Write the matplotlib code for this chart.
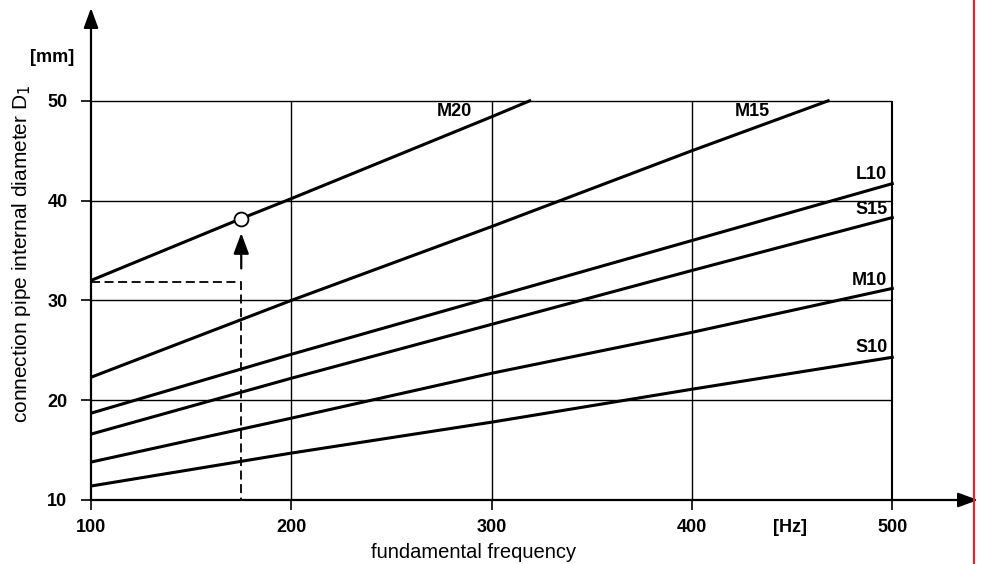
import matplotlib
matplotlib.use("Agg")
import matplotlib.pyplot as plt
from matplotlib.lines import Line2D

plt.rcParams['font.family'] = ['Liberation Sans', 'DejaVu Sans']

# readings taken off the chart: frequency [Hz] -> diameter [mm]
freq = [100, 200, 300, 400, 500]
m20_freq = [100, 175, 200, 300, 319]
m20 = [32.0, 38.2, 40.2, 48.4, 50.0]
m15_freq = [100, 200, 300, 400, 468]
m15 = [22.3, 30.0, 37.4, 45.0, 50.0]
l10 = [18.7, 24.6, 30.3, 36.0, 41.7]
s15 = [16.6, 22.2, 27.6, 33.0, 38.3]
m10 = [13.8, 18.2, 22.7, 26.8, 31.2]
s10 = [11.4, 14.7, 17.8, 21.1, 24.3]

x_ticks = [100, 200, 300, 400, 500]
y_ticks = [10, 20, 30, 40, 50]

# example point
ex_f = 175
ex_d = 38.2
ex_d1 = 31.8

fig = plt.figure(figsize=(9.86, 5.64), dpi=100)
ax = fig.add_axes([91 / 986, 64 / 564, 887 / 986, 492 / 564])
ax.set_xlim(100, 542.8)
ax.set_ylim(10, 59.3)

for s in ax.spines.values():
    s.set_visible(False)

# grid box
ax.hlines([20, 30, 40, 50], 100, 500, color='k', lw=1.0)
ax.vlines([200, 300, 400], 10, 50, color='k', lw=1.0)
ax.vlines([500], 10, 50, color='k', lw=1.5)

# axes with arrow heads
arr = dict(arrowstyle='-|>,head_length=0.6,head_width=0.22', mutation_scale=20,
           color='k', lw=1.6, shrinkA=0, shrinkB=0)
ax.annotate('', xy=(542.8, 10), xytext=(100, 10), arrowprops=arr, annotation_clip=False)
ax.annotate('', xy=(100, 59.3), xytext=(100, 10), arrowprops=arr, annotation_clip=False)

ax.set_xticks(x_ticks)
ax.set_yticks(y_ticks)
ax.tick_params(axis='both', direction='out', length=7, width=1.2, labelsize=13)
ax.tick_params(axis='x', pad=7)
ax.tick_params(axis='y', pad=10)
for lab in ax.get_xticklabels() + ax.get_yticklabels():
    lab.set_fontweight('bold')

lw = 2.2
ax.plot(m20_freq, m20, color='k', lw=lw)
ax.plot(m15_freq, m15, color='k', lw=lw)
for ser in (l10, s15, m10, s10):
    ax.plot(freq, ser, color='k', lw=lw)

# curve names
lab_kw = dict(fontsize=13, fontweight='bold', va='center', ha='right')
ax.text(290, 48.9, 'M20', **lab_kw)
ax.text(439, 48.9, 'M15', **lab_kw)
ax.text(497.5, 42.6, 'L10', **lab_kw)
ax.text(497.5, 39.1, 'S15', **lab_kw)
ax.text(497.5, 32.0, 'M10', **lab_kw)
ax.text(497.5, 25.3, 'S10', **lab_kw)

# example reading
ax.plot([100, ex_f, ex_f], [ex_d1, ex_d1, 10], color='k', lw=1.3, ls=(0, (5, 2.5)))
ax.plot([ex_f], [ex_d], marker='o', ms=10, mfc='white', mec='k', mew=1.3)
ax.annotate('', xy=(ex_f, 36.75), xytext=(ex_f, 33.2),
            arrowprops=dict(arrowstyle='-|>,head_length=0.7,head_width=0.26',
                            mutation_scale=18, color='k', lw=1.6, shrinkA=0, shrinkB=0))

# units
fig.text(52 / 986, 1 - 58 / 564, '[mm]', fontsize=13, fontweight='bold', ha='center', va='center')
fig.text(790 / 986, 1 - 527 / 564, '[Hz]', fontsize=13, fontweight='bold', ha='center', va='center')

fig.text(22 / 986, 1 - 254 / 564, 'connection pipe internal diameter D$_1$', fontsize=15,
         rotation=90, ha='center', va='center')
fig.text(474 / 986, 1 - 553 / 564, 'fundamental frequency', fontsize=14.5, ha='center', va='center')

# red marker line on the right
fig.add_artist(Line2D([974.3 / 986, 974.3 / 986], [0, 1], color='#e8212a', lw=1.6))

fig.savefig('out.png', dpi=100)
